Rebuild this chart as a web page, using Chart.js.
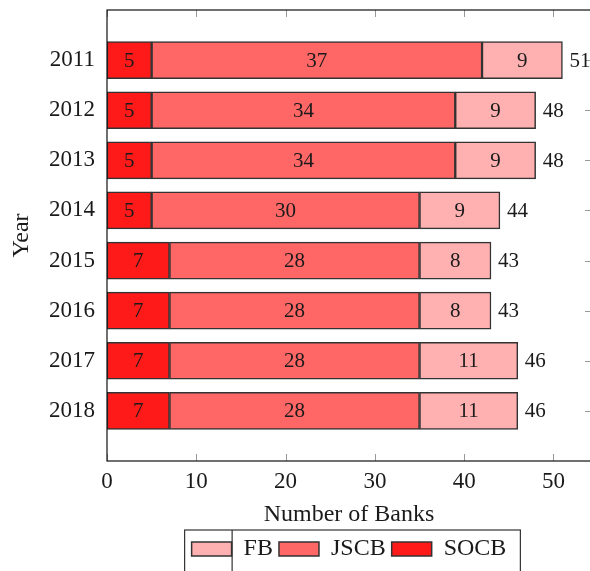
<!DOCTYPE html>
<html>
<head>
<meta charset="utf-8">
<script src="https://cdn.jsdelivr.net/npm/chart.js@4"></script>
<style>
    html, body { margin: 0; padding: 0; overflow: hidden; background: #fff; }
    #wrap { width: 600px; height: 590px; }
</style>
</head>
<body>
<div id="wrap"><canvas id="canvas" width="600" height="590"></canvas></div>
<script>
// Years on the vertical axis (empty ends give the half-row margins).
const years = ['', '2011', '2012', '2013', '2014', '2015', '2016', '2017', '2018', '']

// Number of banks per group.
const socb = [null, 5, 5, 5, 5, 7, 7, 7, 7, null]
const jscb = [null, 37, 34, 34, 30, 28, 28, 28, 28, null]
const fb = [null, 9, 9, 9, 9, 8, 8, 11, 11, null]

const serif = 'Liberation Serif'
const ink = '#1a1a1a'

// Frame, inward ticks and value labels.
const decor = {
    id: 'decor',
    beforeDatasetsDraw(chart) {
        const { ctx, chartArea: a, scales } = chart
        ctx.save()
        ctx.strokeStyle = '#999'
        ctx.lineWidth = 1
        ctx.beginPath()
        scales.x.ticks.forEach(t => {
            const px = Math.round(scales.x.getPixelForValue(t.value)) + 0.5
            ctx.moveTo(px, a.top); ctx.lineTo(px, a.top + 7)
            ctx.moveTo(px, a.bottom); ctx.lineTo(px, a.bottom - 7)
        })
        years.forEach((y, i) => {
            if (!y) return
            const py = Math.round(scales.y.getPixelForValue(i)) + 0.5
            ctx.moveTo(a.left, py); ctx.lineTo(a.left + 6, py)
            ctx.moveTo(a.right, py); ctx.lineTo(a.right - 6, py)
        })
        ctx.stroke()
        ctx.restore()
    },
    afterDatasetsDraw(chart) {
        const { ctx, chartArea: a } = chart
        ctx.save()
        ctx.fillStyle = ink
        ctx.font = `21px "${serif}"`
        ctx.textBaseline = 'middle'
        ctx.textAlign = 'center'
        chart.data.datasets.forEach((ds, d) => {
            chart.getDatasetMeta(d).data.forEach((bar, i) => {
                if (ds.data[i] == null) return
                const { x, y } = bar.getCenterPoint()
                ctx.fillText(ds.data[i], x, y + 1)
            })
        })
        // Totals to the right of each bar.
        ctx.textAlign = 'left'
        const last = chart.getDatasetMeta(chart.data.datasets.length - 1).data
        last.forEach((bar, i) => {
            if (fb[i] == null) return
            const total = socb[i] + jscb[i] + fb[i]
            ctx.fillText(total, bar.x + 7, bar.y + 1)
        })
        ctx.strokeStyle = '#111'
        ctx.lineWidth = 1.2
        ctx.strokeRect(a.left, a.top, a.right - a.left, a.bottom - a.top)
        ctx.restore()
    },
    afterDraw(chart) {
        const lg = chart.legend
        const hb = lg.legendHitBoxes
        if (!hb || !hb.length) return
        const { ctx } = chart
        const left = hb[0].left - 7
        const right = hb[hb.length - 1].left + hb[hb.length - 1].width + 14
        const top = lg.top - 1
        ctx.save()
        ctx.strokeStyle = '#333'
        ctx.lineWidth = 1.2
        ctx.strokeRect(left, top, right - left, 80)
        ctx.beginPath()
        ctx.moveTo(hb[0].left + 40.5, top)
        ctx.lineTo(hb[0].left + 40.5, top + 80)
        ctx.stroke()
        ctx.restore()
    },
}

const canvas = document.querySelector('#canvas')

new Chart(canvas, {
    type: 'bar',
    data: {
        labels: years,
        datasets: [
            { label: 'SOCB', data: socb, backgroundColor: 'rgb(255, 26, 26)' },
            { label: 'JSCB', data: jscb, backgroundColor: 'rgb(255, 102, 102)' },
            { label: 'FB', data: fb, backgroundColor: 'rgb(255, 176, 176)' },
        ].map(ds => ({ ...ds, borderColor: '#333', borderWidth: 1.5, borderSkipped: false, barThickness: 37 })),
    },
    options: {
        indexAxis: 'y',
        responsive: false,
        animation: false,
        layout: { padding: { left: 0, top: 10, right: 9, bottom: 19 } },
        scales: {
            x: {
                stacked: true,
                min: 0,
                max: 54.2,
                grid: { display: false, drawTicks: false },
                border: { display: false },
                ticks: {
                    stepSize: 10,
                    includeBounds: false,
                    padding: 7,
                    color: ink,
                    font: { family: serif, size: 23 },
                },
                title: {
                    display: true,
                    text: 'Number of Banks',
                    color: ink,
                    font: { family: serif, size: 24, lineHeight: 1 },
                    padding: { top: 0, bottom: 4 },
                },
                afterFit(s) { s.height = 70; s.paddingLeft = 0; s.paddingRight = 0 },
            },
            y: {
                stacked: true,
                offset: false,
                grid: { display: false, drawTicks: false },
                border: { display: false },
                ticks: {
                    padding: 12,
                    color: ink,
                    autoSkip: false,
                    font: { family: serif, size: 23 },
                },
                title: {
                    display: true,
                    text: 'Year',
                    color: ink,
                    font: { family: serif, size: 24, lineHeight: 1 },
                    padding: { top: 10, bottom: 0 },
                },
                afterFit(s) { s.width = 107; s.paddingTop = 0; s.paddingBottom = 0 },
            },
        },
        plugins: {
            tooltip: { enabled: false },
            legend: {
                position: 'bottom',
                fullSize: false,
                reverse: true,
                labels: {
                    boxWidth: 40,
                    boxHeight: 14,
                    padding: 6,
                    color: ink,
                    font: { family: serif, size: 24 },
                },
            },
        },
    },
    plugins: [decor],
})
</script>
</body>
</html>
